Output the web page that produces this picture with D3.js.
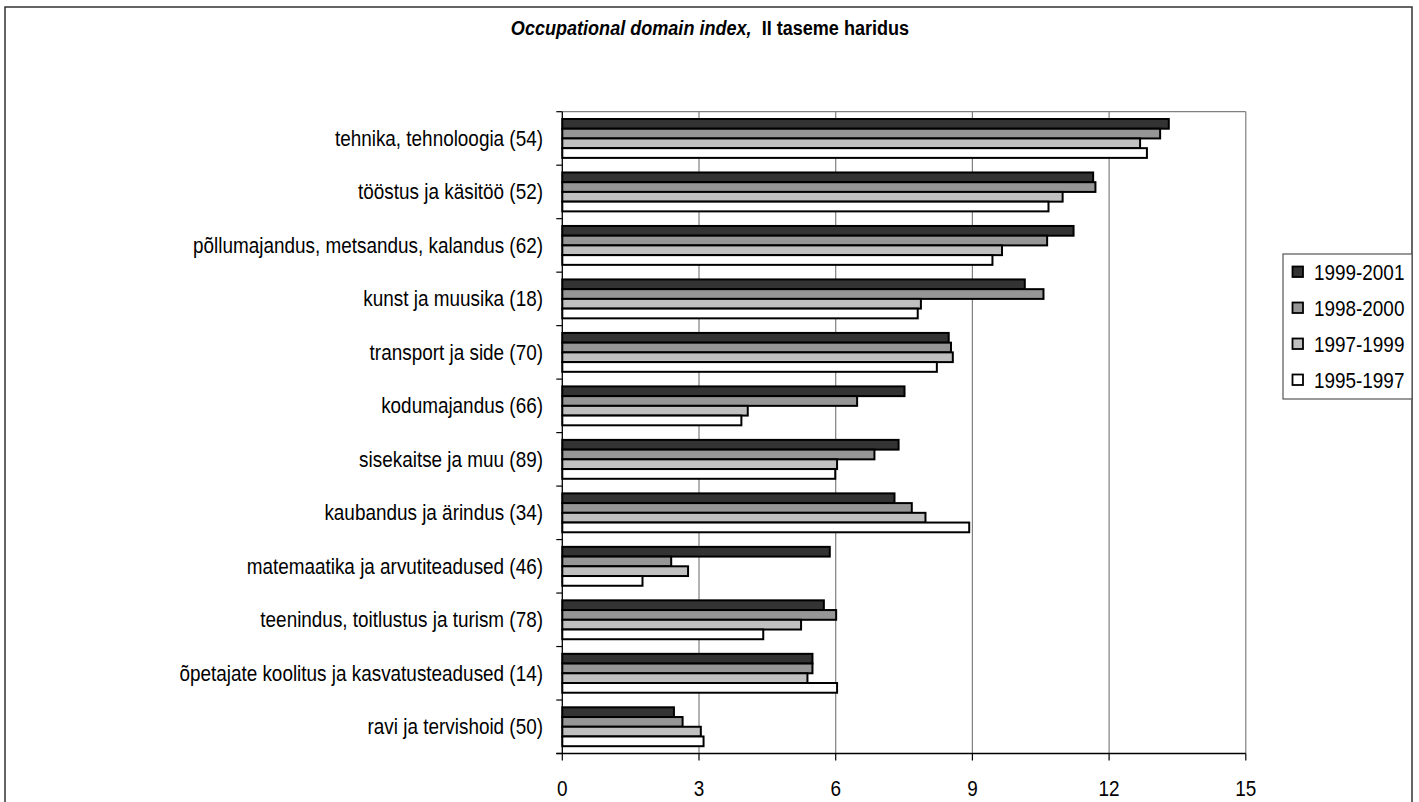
<!DOCTYPE html>
<html>
<head>
<meta charset="utf-8">
<script src="https://cdn.jsdelivr.net/npm/d3@7"></script>
<style>
  body { margin: 0; background: #fff; }
  svg text { font-family: "Liberation Sans", Arial, sans-serif; fill: #000; }
</style>
</head>
<body>
<div id="chart"></div>
<script>
// categories, top to bottom
const categories = [
  "tehnika, tehnoloogia (54)",
  "tööstus ja käsitöö (52)",
  "põllumajandus, metsandus, kalandus (62)",
  "kunst ja muusika (18)",
  "transport ja side (70)",
  "kodumajandus (66)",
  "sisekaitse ja muu (89)",
  "kaubandus ja ärindus (34)",
  "matemaatika ja arvutiteadused (46)",
  "teenindus, toitlustus ja turism (78)",
  "õpetajate koolitus ja kasvatusteadused (14)",
  "ravi ja tervishoid (50)"
];

const seriesNames = ["1999-2001", "1998-2000", "1997-1999", "1995-1997"];
const seriesColors = ["#333333", "#969696", "#c0c0c0", "#ffffff"];

const v1999_2001 = [13.31, 11.65, 11.22, 10.15, 8.48, 7.51, 7.38, 7.29, 5.87, 5.74, 5.49, 2.45];
const v1998_2000 = [13.12, 11.70, 10.64, 10.56, 8.53, 6.47, 6.85, 7.67, 2.39, 6.01, 5.49, 2.64];
const v1997_1999 = [12.68, 10.98, 9.65, 7.87, 8.57, 4.07, 6.03, 7.97, 2.76, 5.24, 5.38, 3.04];
const v1995_1997 = [12.83, 10.67, 9.44, 7.80, 8.22, 3.93, 5.99, 8.93, 1.76, 4.41, 6.03, 3.10];

const xTicks = [0, 3, 6, 9, 12, 15];

const seriesValues = [v1999_2001, v1998_2000, v1997_1999, v1995_1997];

const W = 1419, H = 802;
const plot = {left: 562.3, right: 1245.8, top: 111.7, bottom: 753.5};
const SX = 0.86;   // text in the picture is a bit squeezed horizontally

const svg = d3.select("#chart").append("svg")
    .attr("width", W)
    .attr("height", H);

// helper: squeezed text at x,y
function txt(g, x, y, s, size) {
    return g.append("text")
        .attr("x", x / SX)
        .attr("y", y)
        .attr("transform", `scale(${SX},1)`)
        .style("font-size", size + "px")
        .text(s);
}

// outer frame
svg.append("rect")
    .attr("x", 5).attr("y", 7)
    .attr("width", 1407).attr("height", 820)
    .attr("fill", "none")
    .attr("stroke", "#333")
    .attr("stroke-width", 1.5);

// title
const title = svg.append("text")
    .attr("x", 710 / SX)
    .attr("y", 35)
    .attr("transform", `scale(${SX},1)`)
    .style("font-size", "21px")
    .style("font-weight", "bold")
    .style("text-anchor", "middle");
title.append("tspan").style("font-style", "italic").text("Occupational domain index,");
title.append("tspan").text("\u00a0 II taseme haridus");

const x = d3.scaleLinear().domain([0, 15]).range([plot.left, plot.right]);
const y = d3.scaleBand().domain(categories).range([plot.top, plot.bottom]).padding(0);
const step = y.step();
const inner = d3.scaleBand()
    .domain(d3.range(seriesNames.length))
    .range([step * 0.75 / 5.5, step * 4.75 / 5.5])
    .padding(0);

// gridlines
svg.append("g")
    .selectAll("line")
    .data(xTicks.filter(t => t > 0))
    .enter().append("line")
        .attr("x1", d => x(d)).attr("x2", d => x(d))
        .attr("y1", plot.top).attr("y2", plot.bottom)
        .attr("stroke", "#808080")
        .attr("stroke-width", 1.2);

// plot border top
svg.append("line")
    .attr("x1", plot.left).attr("x2", plot.right)
    .attr("y1", plot.top).attr("y2", plot.top)
    .attr("stroke", "#808080").attr("stroke-width", 1.2);

// bars
const groups = svg.append("g")
    .selectAll("g")
    .data(categories)
    .enter().append("g")
        .attr("transform", d => `translate(0,${y(d)})`);

groups.selectAll("rect")
    .data((d, i) => seriesValues.map((s, k) => ({k: k, v: s[i]})))
    .enter().append("rect")
        .attr("x", x(0))
        .attr("y", d => inner(d.k))
        .attr("width", d => x(d.v) - x(0))
        .attr("height", inner.bandwidth())
        .attr("fill", d => seriesColors[d.k])
        .attr("stroke", "#000")
        .attr("stroke-width", 2);

// x axis
const xAxis = svg.append("g");
xAxis.append("line")
    .attr("x1", plot.left - 6).attr("x2", plot.right)
    .attr("y1", plot.bottom).attr("y2", plot.bottom)
    .attr("stroke", "#000").attr("stroke-width", 1.3);
xAxis.selectAll("line.tick")
    .data(xTicks)
    .enter().append("line")
        .attr("class", "tick")
        .attr("x1", d => x(d)).attr("x2", d => x(d))
        .attr("y1", plot.bottom).attr("y2", plot.bottom + 7)
        .attr("stroke", "#000").attr("stroke-width", 1.2);
xTicks.forEach(t => {
    txt(xAxis, x(t), 796, String(t), 22).style("text-anchor", "middle");
});

// y axis
const yAxis = svg.append("g");
yAxis.append("line")
    .attr("x1", plot.left).attr("x2", plot.left)
    .attr("y1", plot.top).attr("y2", plot.bottom)
    .attr("stroke", "#000").attr("stroke-width", 1.3);
yAxis.selectAll("line.tick")
    .data(categories.map(c => y(c)).concat([plot.bottom]))
    .enter().append("line")
        .attr("class", "tick")
        .attr("x1", plot.left - 6).attr("x2", plot.left)
        .attr("y1", d => d).attr("y2", d => d)
        .attr("stroke", "#000").attr("stroke-width", 1.2);
categories.forEach(c => {
    txt(yAxis, 543, y(c) + step / 2 + 7.5, c, 22).style("text-anchor", "end");
});

// legend
const legend = svg.append("g");
legend.append("rect")
    .attr("x", 1283).attr("y", 254)
    .attr("width", 129).attr("height", 145)
    .attr("fill", "#fff")
    .attr("stroke", "#555").attr("stroke-width", 1.2);
seriesNames.forEach((s, k) => {
    const ly = 272 + k * 36;
    legend.append("rect")
        .attr("x", 1292.5).attr("y", ly - 5.5)
        .attr("width", 10.5).attr("height", 10.5)
        .attr("fill", seriesColors[k])
        .attr("stroke", "#000").attr("stroke-width", 1.8);
    txt(legend, 1314, ly + 8, s, 22);
});
</script>
</body>
</html>
